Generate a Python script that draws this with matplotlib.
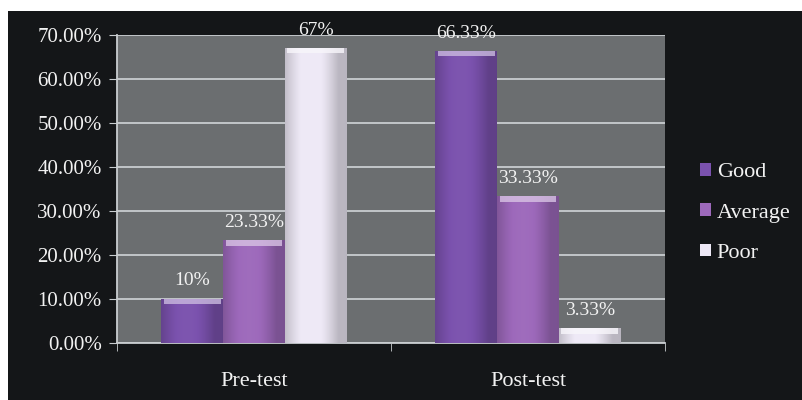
import numpy as np
import matplotlib
matplotlib.use("Agg")
import matplotlib.pyplot as plt
from matplotlib.patches import Rectangle
from matplotlib.colors import to_rgb

plt.rcParams["font.family"] = ["Liberation Serif", "DejaVu Serif"]

categories = ["Pre-test", "Post-test"]
series = ["Good", "Average", "Poor"]
good = [0.10, 0.6633]
average = [0.2333, 0.3333]
poor = [0.67, 0.0333]
labels = [["10%", "66.33%"], ["23.33%", "33.33%"], ["67%", "3.33%"]]

colors = ["#7b52ae", "#9d69bb", "#eee9f6"]
BG = "#141618"
PLOT_BG = "#6b6e70"
W = 0.226

fig = plt.figure(figsize=(8.03, 4.0), dpi=100, facecolor="white")
fig.patches.append(Rectangle((8 / 803, 0), 1, 389 / 400, transform=fig.transFigure,
                             facecolor=BG, edgecolor="none", zorder=-10))
ax = fig.add_axes([117 / 803, 57 / 400, 548 / 803, 308 / 400])
ax.set_facecolor(PLOT_BG)


def shade(c, f):
    r = np.array(to_rgb(c))
    if f < 1:
        return r * f
    return r + (1 - r) * (f - 1)


x = np.arange(len(categories))
for i, vals in enumerate([good, average, poor]):
    bars = ax.bar(x + (i - 1) * W, vals, W, color=colors[i], zorder=3, label=series[i])
    for b, lab in zip(bars, labels[i]):
        x0, y0 = b.get_x(), b.get_y()
        w, h = b.get_width(), b.get_height()
        # soft horizontal shading, darker at the edges
        t = np.linspace(0, 1, 80)
        prof = 0.82 + 0.24 * np.sin(np.pi * np.clip(t * 1.15, 0, 1)) - 0.04 * t
        img = np.array([[shade(colors[i], f if f <= 1 else 1 + (f - 1) * 0.5) for f in prof]])
        im = ax.imshow(img, extent=[x0, x0 + w, y0, y0 + h], aspect="auto",
                       zorder=4, interpolation="bilinear")
        im.set_clip_path(b)
        # top bevel highlight
        hh = min(0.012, h * 0.5)
        ax.add_patch(Rectangle((x0 + w * 0.04, y0 + h - hh), w * 0.92, hh,
                               facecolor=shade(colors[i], 1.6), edgecolor="none",
                               alpha=0.8, zorder=5))
        ax.annotate(lab, (x0 + w / 2, y0 + h), xytext=(0, 13), textcoords="offset points",
                    ha="center", va="center", color="#f2f2f2", fontsize=14, zorder=6)

ax.set_xlim(-0.5, 1.5)
ax.set_ylim(0, 0.70)
ax.set_yticks(np.arange(0, 0.71, 0.10))
ax.set_yticklabels([f"{v * 100:.2f}%" for v in np.arange(0, 0.71, 0.10)])
ax.yaxis.grid(True, color="#c9cdd0", linewidth=1.3, zorder=1)
ax.set_axisbelow(True)

ax.set_xticks(x)
ax.set_xticklabels(categories)
ax.set_xticks([-0.5, 0.5, 1.5], minor=True)
ax.tick_params(axis="x", which="major", length=0, pad=21, labelsize=16, colors="#f2f2f2")
ax.tick_params(axis="x", which="minor", length=6, color="#c9cdd0", direction="out")
ax.tick_params(axis="y", length=6, color="#c9cdd0", labelsize=15, labelcolor="#f2f2f2", pad=5)

for s in ["top", "right"]:
    ax.spines[s].set_visible(False)
for s in ["left", "bottom"]:
    ax.spines[s].set_color("#c9cdd0")
    ax.spines[s].set_linewidth(1.3)

leg = ax.legend(loc="center left", bbox_to_anchor=(680 / 803, (400 - 213) / 400),
                bbox_transform=fig.transFigure, frameon=False, fontsize=16,
                handlelength=0.5, handleheight=0.5, handletextpad=0.25,
                labelspacing=0.95, labelcolor="#f2f2f2")

fig.savefig("out.png", dpi=100, facecolor=fig.get_facecolor())
